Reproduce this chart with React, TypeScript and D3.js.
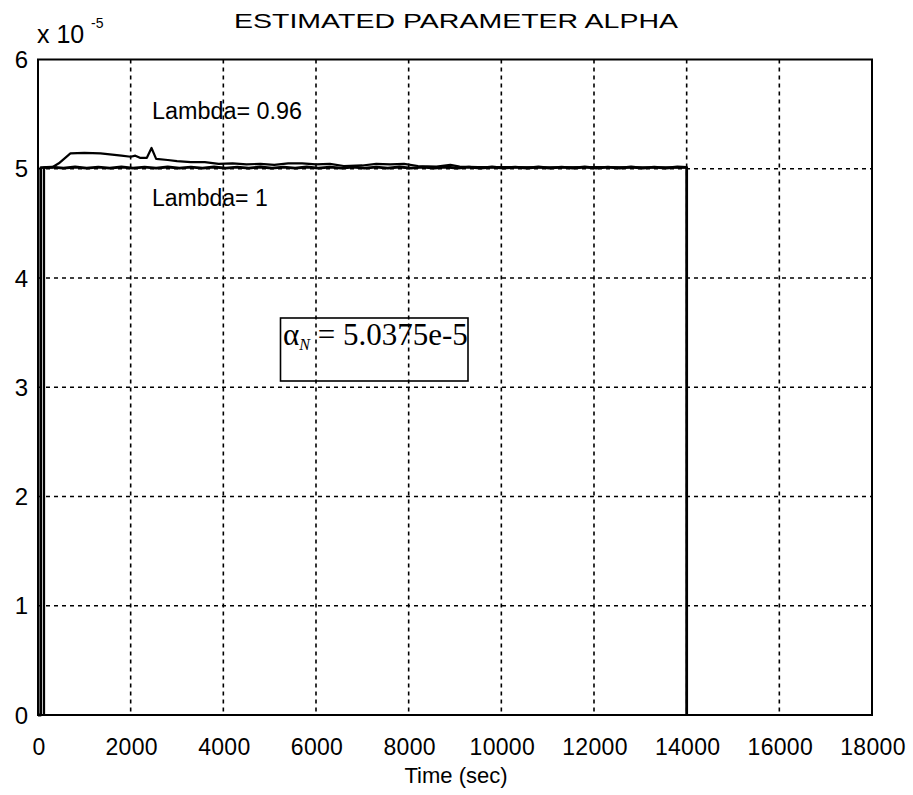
import React from "react";
import * as d3 from "d3";

const xTicks = [0, 2000, 4000, 6000, 8000, 10000, 12000, 14000, 16000, 18000];
const yTicks = [0, 1, 2, 3, 4, 5, 6];

// Lambda = 1 (time in s, value in 1e-5)
const lambda1Time = [0, 60, 60, 300, 550, 800, 1050, 1300, 1550, 1800, 2050, 2300, 2550, 2800, 3050, 3300, 3550, 3800, 4050, 4300, 4550, 4800, 5050, 5300, 5550, 5800, 6050, 6300, 6550, 6800, 7050, 7300, 7550, 7800, 8050, 8300, 8550, 8800, 9050, 9300, 9550, 9800, 10050, 10300, 10550, 10800, 11050, 11300, 11550, 11800, 12050, 12300, 12550, 12800, 13050, 13300, 13550, 13800, 14000, 14000];
const lambda1Value = [0, 0, 5.01, 5.015, 5.005, 5.016, 5.006, 5.015, 5.005, 5.016, 5.006, 5.015, 5.005, 5.016, 5.006, 5.015, 5.005, 5.016, 5.006, 5.015, 5.005, 5.016, 5.006, 5.015, 5.005, 5.016, 5.006, 5.015, 5.005, 5.016, 5.006, 5.015, 5.005, 5.016, 5.006, 5.015, 5.005, 5.016, 5.006, 5.015, 5.005, 5.016, 5.006, 5.015, 5.005, 5.016, 5.006, 5.015, 5.005, 5.016, 5.006, 5.015, 5.005, 5.016, 5.006, 5.015, 5.005, 5.016, 5.012, 0];

// Lambda = 0.96
const lambda096Time = [0, 130, 130, 300, 450, 700, 1000, 1350, 1600, 1800, 2000, 2100, 2200, 2350, 2450, 2550, 2800, 3000, 3300, 3600, 3900, 4200, 4500, 4800, 5100, 5400, 5700, 6000, 6300, 6600, 7000, 7300, 7600, 7900, 8200, 8600, 8900, 9100, 9500, 10000, 11000, 12000, 13000, 14000];
const lambda096Value = [0, 0, 5.01, 5.012, 5.05, 5.14, 5.145, 5.14, 5.13, 5.12, 5.11, 5.12, 5.1, 5.1, 5.19, 5.09, 5.08, 5.07, 5.06, 5.06, 5.045, 5.05, 5.04, 5.045, 5.035, 5.05, 5.05, 5.04, 5.045, 5.025, 5.03, 5.045, 5.04, 5.045, 5.025, 5.02, 5.035, 5.02, 5.015, 5.015, 5.012, 5.014, 5.012, 5.012];

const W = 913;
const H = 795;
const L = 38, R = 872, T = 59.5, B = 715;

export default function App() {
  const x = d3.scaleLinear().domain([0, 18000]).range([L, R]);
  const y = d3.scaleLinear().domain([0, 6]).range([B, T]);
  const line = d3
    .line<[number, number]>()
    .x((d) => x(d[0]))
    .y((d) => y(d[1]));
  const s1 = lambda1Time.map((t, i) => [t, lambda1Value[i]] as [number, number]);
  const s2 = lambda096Time.map((t, i) => [t, lambda096Value[i]] as [number, number]);
  const font = "'Liberation Sans', Arial, sans-serif";

  return (
    <svg
      width={W}
      height={H}
      style={{ position: "absolute", left: 0, top: 0, background: "#fff" }}
      fontFamily={font}
    >
      <rect x={0} y={0} width={W} height={H} fill="#fff" />
      {/* grid */}
      {xTicks.slice(1, -1).map((t) => (
        <line key={"gx" + t} x1={x(t)} x2={x(t)} y1={T} y2={B} stroke="#000" strokeWidth={1.6} strokeDasharray="4,4" />
      ))}
      {yTicks.slice(1, -1).map((t) => (
        <line key={"gy" + t} x1={L} x2={R} y1={y(t)} y2={y(t)} stroke="#000" strokeWidth={1.6} strokeDasharray="4,4" />
      ))}
      {/* data */}
      <path d={line(s2) || ""} fill="none" stroke="#000" strokeWidth={2.2} strokeLinejoin="round" />
      <path d={line(s1) || ""} fill="none" stroke="#000" strokeWidth={2.8} strokeLinejoin="round" />
      {/* frame */}
      <rect x={L} y={T} width={R - L} height={B - T} fill="none" stroke="#000" strokeWidth={2} />
      {/* y tick labels */}
      {yTicks.map((t) => (
        <text key={"yl" + t} x={28} y={y(t) + 8.5} textAnchor="end" fontSize={24}>
          {t}
        </text>
      ))}
      {/* x tick labels */}
      {xTicks.map((t) => (
        <text key={"xl" + t} x={x(t) + 1} y={755} textAnchor="middle" fontSize={23} letterSpacing={0.3}>
          {t}
        </text>
      ))}
      {/* exponent */}
      <text x={37} y={43} fontSize={25}>x 10</text>
      <text x={91} y={28} fontSize={14}>-5</text>
      {/* title */}
      <text x={234} y={28} fontSize={21} textLength={444} lengthAdjust="spacingAndGlyphs">
        ESTIMATED PARAMETER ALPHA
      </text>
      {/* x label */}
      <text x={456} y={783} textAnchor="middle" fontSize={22}>Time (sec)</text>
      {/* lambda labels */}
      <text x={152} y={119} fontSize={23} textLength={150} lengthAdjust="spacingAndGlyphs">Lambda= 0.96</text>
      <text x={152} y={206} fontSize={23}>Lambda= 1</text>
      {/* annotation box */}
      <rect x={280.5} y={318} width={187.5} height={63} fill="none" stroke="#000" strokeWidth={1.6} />
      <text x={283} y={345} fontFamily="'Liberation Serif', 'Times New Roman', serif" fontSize={31}>
        α
        <tspan fontSize={16} fontStyle="italic" dy={5}>N</tspan>
        <tspan dy={-5}> = 5.0375e-5</tspan>
      </text>
    </svg>
  );
}
